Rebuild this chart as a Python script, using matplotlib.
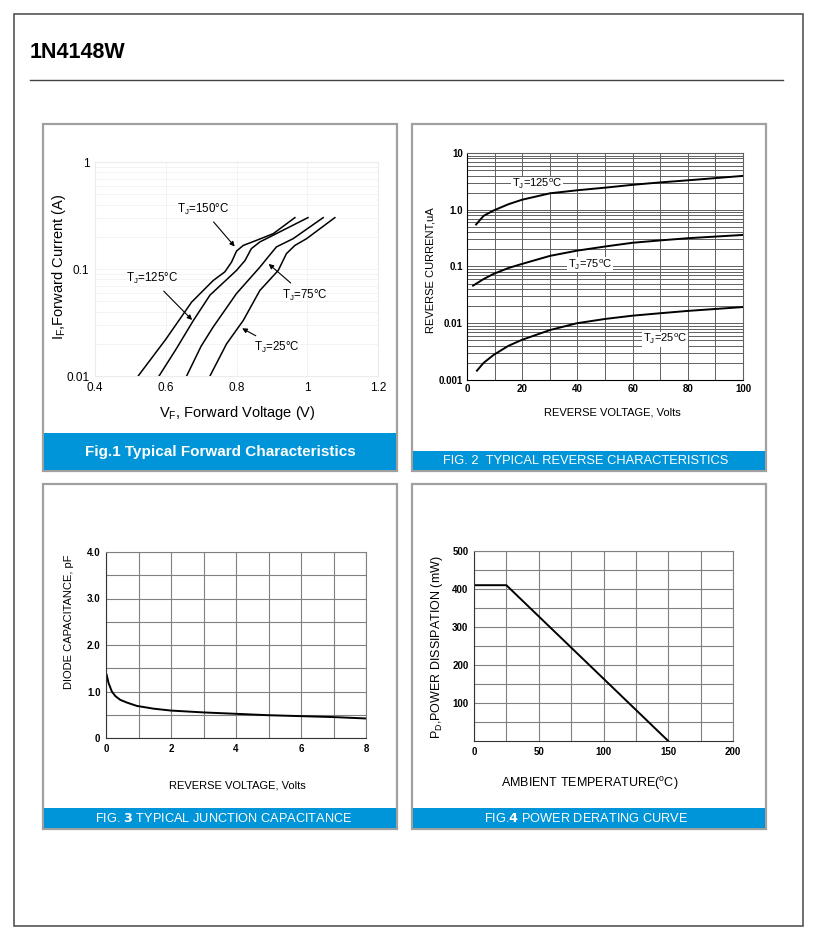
import matplotlib
matplotlib.use("Agg")
import matplotlib.pyplot as plt
from matplotlib.patches import Rectangle
from matplotlib.lines import Line2D
from matplotlib.ticker import FixedLocator, NullFormatter, LogLocator

plt.rcParams['font.family'] = ['Liberation Sans', 'DejaVu Sans']
plt.rcParams['mathtext.default'] = 'regular'

W, H = 830, 946
BLUE = '#0094d8'

# Fig.1 forward characteristics (V, A)
vf_150 = [0.522, 0.600, 0.673, 0.734, 0.767, 0.786, 0.800, 0.819, 0.856, 0.904, 0.965]
if_150 = [0.010, 0.022, 0.049, 0.078, 0.094, 0.116, 0.147, 0.166, 0.185, 0.214, 0.302]
vf_125 = [0.581, 0.630, 0.678, 0.725, 0.800, 0.824, 0.842, 0.866, 0.922, 1.002]
if_125 = [0.010, 0.018, 0.033, 0.057, 0.097, 0.120, 0.155, 0.179, 0.222, 0.302]
vf_75 = [0.659, 0.700, 0.734, 0.800, 0.866, 0.889, 0.913, 0.960, 1.045]
if_75 = [0.010, 0.019, 0.0287, 0.059, 0.104, 0.129, 0.161, 0.192, 0.302]
vf_25 = [0.725, 0.772, 0.819, 0.866, 0.918, 0.941, 0.965, 0.998, 1.078]
if_25 = [0.010, 0.020, 0.033, 0.063, 0.097, 0.139, 0.166, 0.192, 0.302]

# Fig.2 reverse characteristics (V, uA)
vr_125 = [3.3, 6, 9.6, 15, 19.9, 30.1, 39.8, 50, 60, 69.9, 80, 100]
ir_125 = [0.55, 0.78, 0.97, 1.25, 1.50, 1.95, 2.2, 2.45, 2.75, 3.03, 3.3, 3.95]
vr_75 = [2.2, 6, 9.6, 15, 19.9, 30.1, 39.8, 50, 60, 69.9, 80, 100]
ir_75 = [0.046, 0.060, 0.074, 0.094, 0.111, 0.154, 0.190, 0.225, 0.262, 0.288, 0.315, 0.360]
vr_25 = [3.6, 6, 9.6, 15, 19.9, 30.1, 39.8, 50, 60, 69.9, 80, 100]
ir_25 = [0.00146, 0.0020, 0.00276, 0.0040, 0.0051, 0.0076, 0.0100, 0.0119, 0.0136, 0.0150, 0.0165, 0.0193]

# Fig.3 junction capacitance (V, pF)
vr_cap = [0.02, 0.08, 0.18, 0.29, 0.44, 0.65, 0.95, 1.47, 2.0, 3.0, 4.0, 5.0, 6.0, 7.0, 8.0]
cap = [1.36, 1.18, 1.00, 0.90, 0.82, 0.76, 0.69, 0.63, 0.59, 0.55, 0.52, 0.49, 0.47, 0.45, 0.42]

# Fig.4 power derating (degC, mW)
temp_amb = [0, 25, 150]
p_diss = [410, 410, 0]


def rect(x0, y0, x1, y1):
    return [x0 / W, 1 - y1 / H, (x1 - x0) / W, (y1 - y0) / H]


def fx(x):
    return x / W


def fy(y):
    return 1 - y / H


fig = plt.figure(figsize=(W / 100, H / 100), dpi=100)

# outer frame, title and rule
fig.patches.append(Rectangle((fx(14), fy(926)), (803 - 14) / W, (926 - 14) / H,
                             transform=fig.transFigure, fill=False, ec='#555555', lw=1.2))
fig.text(fx(30), fy(53), '1N4148W', fontsize=15.5, fontweight='bold', va='center', ha='left')
fig.lines.append(Line2D([fx(30), fx(783)], [fy(80), fy(80)], transform=fig.transFigure,
                        color='#444444', lw=1.0))

# panel boxes with blue caption bars
panels = [(43, 124, 397, 471, 433), (412, 124, 766, 471, 451),
          (43, 484, 397, 829, 808), (412, 484, 766, 829, 808)]
for x0, y0, x1, y1, yb in panels:
    fig.patches.append(Rectangle((fx(x0), fy(y1)), (x1 - x0) / W, (y1 - y0) / H,
                                 transform=fig.transFigure, fill=False, ec='#a0a0a0', lw=1.6))
    fig.patches.append(Rectangle((fx(x0 + 1), fy(y1 - 1)), (x1 - x0 - 2) / W, (y1 - yb - 1) / H,
                                 transform=fig.transFigure, fc=BLUE, ec='none'))

fig.text(fx(220), fy(452), 'Fig.1 Typical Forward Characteristics', color='white',
         fontsize=11, fontweight='bold', ha='center', va='center')
fig.text(fx(586), fy(461), 'FIG. 2  TYPICAL REVERSE CHARACTERISTICS', color='white',
         fontsize=9.3, ha='center', va='center')
fig.text(fx(224), fy(818), r'FIG. $\mathbf{3}$ TYPICAL JUNCTION CAPACITANCE', color='white',
         fontsize=9.2, ha='center', va='center')
fig.text(fx(586), fy(818), r'FIG.$\mathbf{4}$ POWER DERATING CURVE', color='white',
         fontsize=9.2, ha='center', va='center')

# ---- Fig.1
ax1 = fig.add_axes(rect(95, 162, 378, 376))
ax1.set_yscale('log')
ax1.set_xlim(0.4, 1.2)
ax1.set_ylim(0.01, 1)
ax1.set_xticks([0.4, 0.6, 0.8, 1.0, 1.2])
ax1.set_xticklabels(['0.4', '0.6', '0.8', '1', '1.2'])
ax1.set_yticks([0.01, 0.1, 1])
ax1.set_yticklabels(['0.01', '0.1', '1'])
ax1.yaxis.set_minor_locator(LogLocator(subs=range(2, 10)))
ax1.yaxis.set_minor_formatter(NullFormatter())
ax1.grid(True, which='both', color='#f1f1f1', lw=0.6)
for s in ax1.spines.values():
    s.set_color('#ececec')
ax1.tick_params(which='both', length=0, labelsize=8.5, pad=4)
for vf, i_f in [(vf_150, if_150), (vf_125, if_125), (vf_75, if_75), (vf_25, if_25)]:
    ax1.plot(vf, i_f, color='black', lw=1.1)
arrow = dict(arrowstyle='-|>', color='black', lw=0.8, mutation_scale=7)
ax1.annotate(r'T$_J$=150°C', xy=(0.800, 0.155), xytext=(0.705, 0.36), fontsize=8.3,
             ha='center', va='center', arrowprops=arrow)
ax1.annotate(r'T$_J$=125°C', xy=(0.680, 0.032), xytext=(0.560, 0.081), fontsize=8.3,
             ha='center', va='center', arrowprops=arrow)
ax1.annotate(r'T$_J$=75°C', xy=(0.885, 0.116), xytext=(0.993, 0.057), fontsize=8.3,
             ha='center', va='center', arrowprops=arrow)
ax1.annotate(r'T$_J$=25°C', xy=(0.809, 0.0287), xytext=(0.915, 0.0185), fontsize=8.3,
             ha='center', va='center', arrowprops=arrow)
fig.text(fx(59), fy(267), r'I$_F$,Forward Current (A)', rotation=90, fontsize=10.5,
         ha='center', va='center')
fig.text(fx(237), fy(413), r'V$_F$, Forward Voltage (V)', fontsize=10.5,
         ha='center', va='center')

# ---- Fig.2
ax2 = fig.add_axes(rect(467, 153, 743, 380))
ax2.set_yscale('log')
ax2.set_xlim(0, 100)
ax2.set_ylim(0.001, 10)
ax2.set_xticks(range(0, 101, 20))
ax2.xaxis.set_minor_locator(FixedLocator(range(0, 101, 10)))
ax2.set_yticks([0.001, 0.01, 0.1, 1, 10])
ax2.set_yticklabels(['0.001', '0.01', '0.1', '1.0', '10'])
ax2.yaxis.set_minor_locator(LogLocator(subs=range(2, 10)))
ax2.yaxis.set_minor_formatter(NullFormatter())
ax2.grid(True, which='both', color='#606060', lw=0.7)
for s in ax2.spines.values():
    s.set_color('#606060')
ax2.spines['left'].set_color('black')
ax2.spines['bottom'].set_color('black')
ax2.tick_params(which='both', length=0, labelsize=7, pad=3)
for lab in ax2.get_xticklabels() + ax2.get_yticklabels():
    lab.set_fontweight('bold')
for v, i_r in [(vr_125, ir_125), (vr_75, ir_75), (vr_25, ir_25)]:
    ax2.plot(v, i_r, color='black', lw=1.4, zorder=4)
box = dict(fc='white', ec='none', pad=0.5)
ax2.text(25.3, 2.8, r'T$_J$=125$^o$C', fontsize=8, ha='center', va='center', bbox=box, zorder=3)
ax2.text(44.6, 0.108, r'T$_J$=75$^o$C', fontsize=8, ha='center', va='center', bbox=box, zorder=3)
ax2.text(71.7, 0.0052, r'T$_J$=25$^o$C', fontsize=8, ha='center', va='center', bbox=box, zorder=3)
fig.text(fx(430), fy(270), 'REVERSE CURRENT,uA', rotation=90, fontsize=8,
         ha='center', va='center')
fig.text(fx(612), fy(412), 'REVERSE VOLTAGE, Volts', fontsize=8, ha='center', va='center')

# ---- Fig.3
ax3 = fig.add_axes(rect(106, 552, 366, 738))
ax3.set_xlim(0, 8)
ax3.set_ylim(0, 4)
ax3.set_xticks(range(0, 9, 2))
ax3.xaxis.set_minor_locator(FixedLocator(range(0, 9)))
ax3.set_yticks([0, 1, 2, 3, 4])
ax3.set_yticklabels(['0', '1.0', '2.0', '3.0', '4.0'])
ax3.yaxis.set_minor_locator(FixedLocator([0.5, 1.5, 2.5, 3.5]))
ax3.grid(True, which='both', color='#808080', lw=0.8)
for s in ax3.spines.values():
    s.set_color('#808080')
ax3.spines['left'].set_color('#333333')
ax3.spines['bottom'].set_color('#333333')
ax3.tick_params(which='both', length=0, labelsize=7, pad=4)
for lab in ax3.get_xticklabels() + ax3.get_yticklabels():
    lab.set_fontweight('bold')
ax3.plot(vr_cap, cap, color='black', lw=1.4)
fig.text(fx(69), fy(622), 'DIODE CAPACITANCE, pF', rotation=90, fontsize=8,
         ha='center', va='center')
fig.text(fx(237), fy(786), 'REVERSE VOLTAGE, Volts', fontsize=8, ha='center', va='center')

# ---- Fig.4
ax4 = fig.add_axes(rect(474, 551, 733, 741))
ax4.set_xlim(0, 200)
ax4.set_ylim(0, 500)
ax4.set_xticks(range(0, 201, 50))
ax4.xaxis.set_minor_locator(FixedLocator(range(0, 201, 25)))
ax4.set_yticks([100, 200, 300, 400, 500])
ax4.yaxis.set_minor_locator(FixedLocator(range(50, 500, 100)))
ax4.grid(True, which='both', color='#808080', lw=0.8)
for s in ax4.spines.values():
    s.set_color('#808080')
ax4.spines['left'].set_color('#333333')
ax4.spines['bottom'].set_color('#333333')
ax4.tick_params(which='both', length=0, labelsize=7, pad=4)
for lab in ax4.get_xticklabels() + ax4.get_yticklabels():
    lab.set_fontweight('bold')
ax4.plot(temp_amb, p_diss, color='black', lw=1.4)
fig.text(fx(437), fy(647), r'P$_D$,POWER DISSIPATION (mW)', rotation=90, fontsize=9,
         ha='center', va='center')
fig.text(fx(590), fy(783), r'AMBIENT TEMPERATURE($^o$C)', fontsize=9, ha='center', va='center')

fig.savefig('out.png', dpi=100)
